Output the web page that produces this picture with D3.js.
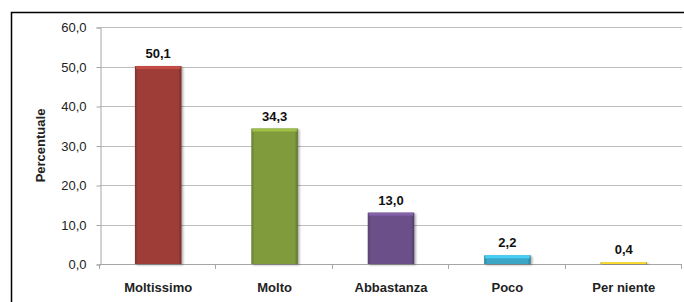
<!DOCTYPE html>
<html>
<head>
<meta charset="utf-8">
<script src="https://cdn.jsdelivr.net/npm/d3@7"></script>
<style>
  html, body { margin: 0; padding: 0; background: #fff; }
  svg { display: block; font-family: "Liberation Sans", Arial, sans-serif; }
</style>
</head>
<body>
<div id="chart"></div>
<script>
const categories = ['Moltissimo', 'Molto', 'Abbastanza', 'Poco', 'Per niente'];
const values = [50.1, 34.3, 13.0, 2.2, 0.4];
const barColors = ['#9e3d37', '#7f9b3b', '#6a4f89', '#3ba6c6', '#e2b21c'];
const yTicks = [0, 10, 20, 30, 40, 50, 60];

const width = 684, height = 302;
const margin = { top: 27, right: 2, bottom: 38, left: 100 };

const it = d3.formatLocale({ decimal: ',', thousands: '.', grouping: [3], currency: ['€', ''] });
const fmt = it.format('.1f');

const svg = d3.select('#chart').append('svg')
  .attr('width', width)
  .attr('height', height);

const defs = svg.append('defs');
const shadow = defs.append('filter')
  .attr('id', 'shadow')
  .attr('x', '-20%').attr('y', '-20%')
  .attr('width', '150%').attr('height', '150%');
shadow.append('feDropShadow')
  .attr('dx', 1.5).attr('dy', 1)
  .attr('stdDeviation', 1.2)
  .attr('flood-color', '#000')
  .attr('flood-opacity', 0.35);

barColors.forEach((c, i) => {
  const g = defs.append('linearGradient')
    .attr('id', `bar-grad-${i}`)
    .attr('x1', 0).attr('x2', 1).attr('y1', 0).attr('y2', 0);
  const base = d3.color(c);
  g.append('stop').attr('offset', '0%').attr('stop-color', base.darker(0.6));
  g.append('stop').attr('offset', '7%').attr('stop-color', base);
  g.append('stop').attr('offset', '93%').attr('stop-color', base);
  g.append('stop').attr('offset', '100%').attr('stop-color', base.darker(0.8));
});

// outer frame
svg.append('rect')
  .attr('x', 11.5)
  .attr('y', 12.5)
  .attr('width', 700)
  .attr('height', 320)
  .attr('fill', 'none')
  .attr('stroke', '#000')
  .attr('stroke-width', 1.5);

const x = d3.scaleBand()
  .domain(categories)
  .range([margin.left, width - margin.right])
  .paddingInner(0.6)
  .paddingOuter(0.3);

const y = d3.scaleLinear()
  .domain([0, 60])
  .range([height - margin.bottom, margin.top]);

const step = x.step();
const x0 = margin.left, x1 = width - margin.right;

// gridlines
svg.append('g')
  .selectAll('line')
  .data(yTicks.filter(d => d > 0))
  .join('line')
    .attr('x1', x0)
    .attr('x2', x1)
    .attr('y1', d => Math.round(y(d)) + 0.5)
    .attr('y2', d => Math.round(y(d)) + 0.5)
    .attr('stroke', '#bdbdbd')
    .attr('stroke-width', 1);

// y axis
const yAxis = d3.axisLeft(y)
  .tickValues(yTicks)
  .tickSize(4)
  .tickPadding(10)
  .tickFormat(fmt);
const yG = svg.append('g')
  .attr('transform', `translate(${x0 + 0.5}, 0.5)`)
  .call(yAxis);
yG.select('.domain').attr('stroke', '#a6a6a6');
yG.selectAll('.tick line').attr('stroke', '#a6a6a6');
yG.selectAll('.tick text')
  .attr('font-size', '13px')
  .attr('font-family', '"Liberation Sans", Arial, sans-serif')
  .attr('fill', '#222');

// x axis line and ticks at category boundaries
const xG = svg.append('g');
xG.append('line')
  .attr('x1', x0)
  .attr('x2', x1)
  .attr('y1', Math.round(y(0)) + 0.5)
  .attr('y2', Math.round(y(0)) + 0.5)
  .attr('stroke', '#a6a6a6');
xG.selectAll('.bound')
  .data(d3.range(categories.length + 1))
  .join('line')
    .attr('class', 'bound')
    .attr('x1', i => Math.round(x0 + i * step) - 0.5)
    .attr('x2', i => Math.round(x0 + i * step) - 0.5)
    .attr('y1', Math.round(y(0)))
    .attr('y2', Math.round(y(0)) + 5)
    .attr('stroke', '#a6a6a6');
xG.selectAll('.cat')
  .data(categories)
  .join('text')
    .attr('class', 'cat')
    .attr('x', d => x(d) + x.bandwidth() / 2)
    .attr('y', 292)
    .attr('text-anchor', 'middle')
    .attr('font-size', '13px')
    .attr('font-weight', 'bold')
    .attr('fill', '#222')
    .text(d => d);

// bars
const bars = svg.append('g')
  .selectAll('g')
  .data(categories.map((c, i) => ({ cat: c, value: values[i], i })))
  .join('g');

bars.append('rect')
  .attr('x', d => x(d.cat))
  .attr('y', d => y(d.value))
  .attr('width', x.bandwidth())
  .attr('height', d => y(0) - y(d.value))
  .attr('fill', d => `url(#bar-grad-${d.i})`)
  .attr('filter', 'url(#shadow)');

// top bevel highlight
bars.append('rect')
  .attr('x', d => x(d.cat) + 1)
  .attr('y', d => y(d.value))
  .attr('width', x.bandwidth() - 2)
  .attr('height', d => Math.min(3, y(0) - y(d.value)))
  .attr('fill', d => d3.color(barColors[d.i]).brighter(0.6));

// value labels
bars.append('text')
  .attr('x', d => x(d.cat) + x.bandwidth() / 2)
  .attr('y', d => y(d.value) - 8)
  .attr('text-anchor', 'middle')
  .attr('font-size', '13px')
  .attr('font-weight', 'bold')
  .attr('fill', '#111')
  .text(d => fmt(d.value));

// y title
svg.append('text')
  .attr('transform', `translate(45, ${(y(0) + y(60)) / 2}) rotate(-90)`)
  .attr('text-anchor', 'middle')
  .attr('font-size', '13px')
  .attr('font-weight', 'bold')
  .attr('fill', '#222')
  .text('Percentuale');
</script>
</body>
</html>
